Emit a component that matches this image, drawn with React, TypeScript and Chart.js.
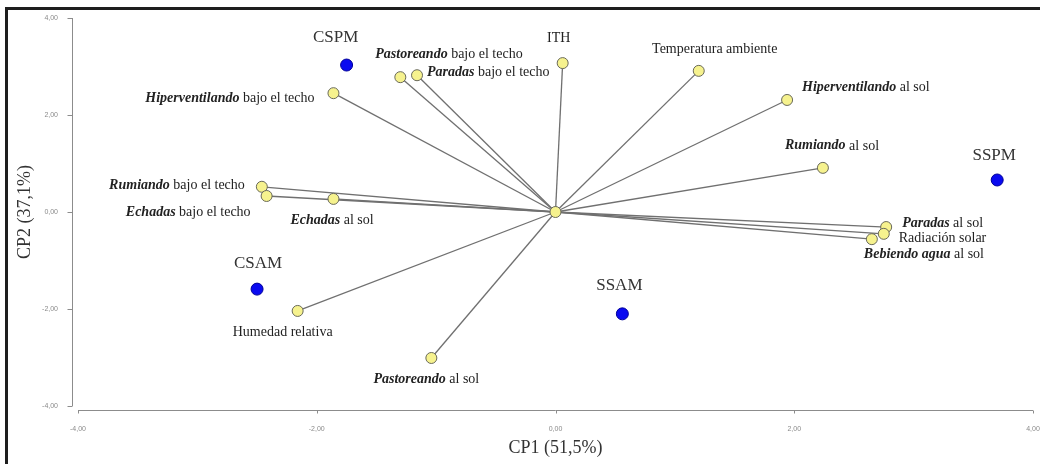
import { useEffect, useRef } from 'react';
import { Chart, registerables } from 'chart.js';

Chart.register(...registerables);

// ---- Data ----
const varBold = [
  'Hiperventilando', 'Pastoreando', 'Paradas', '', '', 'Hiperventilando', 'Rumiando',
  'Paradas', '', 'Bebiendo agua', 'Rumiando', 'Echadas', 'Echadas', '', 'Pastoreando',
];
const varRest = [
  ' bajo el techo', ' bajo el techo', ' bajo el techo', 'ITH', 'Temperatura ambiente', ' al sol', ' al sol',
  ' al sol', 'Radiación solar', ' al sol', ' bajo el techo', ' bajo el techo', ' al sol', 'Humedad relativa', ' al sol',
];
const varX = [-1.86, -1.30, -1.16, 0.06, 1.20, 1.94, 2.24, 2.77, 2.75, 2.65, -2.46, -2.42, -1.86, -2.16, -1.04];
const varY = [2.45, 2.78, 2.82, 3.07, 2.91, 2.31, 0.91, -0.31, -0.45, -0.56, 0.52, 0.33, 0.27, -2.04, -3.01];

const groupNames = ['CSPM', 'SSPM', 'CSAM', 'SSAM'];
const groupX = [-1.75, 3.70, -2.50, 0.56];
const groupY = [3.03, 0.66, -1.59, -2.10];

const axisMin = -4;
const axisMax = 4;
const axisStep = 2;
const xTitle = 'CP1 (51,5%)';
const yTitle = 'CP2 (37,1%)';

// ---- Label layout (pixel offsets from each point) ----
const varLabelPos: [number, number, CanvasTextAlign][] = [
  [-19, 5, 'right'], [-25, -23, 'left'], [10, -3, 'left'], [-4, -25, 'center'], [16, -22, 'center'],
  [15, -13, 'left'], [-38, -22, 'left'], [16, -4, 'left'], [15, 5, 'left'], [-8, 15, 'left'],
  [-17, -1, 'right'], [-16, 16, 'right'], [-43, 21, 'left'], [-15, 21, 'center'], [-5, 21, 'center'],
];
const groupLabelPos: [number, number][] = [[-11, -28], [-3, -24], [1, -26], [-3, -28]];

const SERIF = '"Liberation Serif", "Times New Roman", serif';

export default function App() {
  const canvasRef = useRef<HTMLCanvasElement | null>(null);

  useEffect(() => {
    const canvas = canvasRef.current;
    if (!canvas) return;

    const lineDatasets = varX.map((x, i) => ({
      type: 'line' as const,
      data: [{ x: 0, y: 0 }, { x, y: varY[i] }],
      borderColor: '#707070',
      borderWidth: 1.3,
      pointRadius: 0,
      pointHoverRadius: 0,
      fill: false,
      order: 3,
    }));

    const decorPlugin = {
      id: 'decor',
      beforeDraw(chart: any) {
        const ctx = chart.ctx;
        ctx.save();
        ctx.fillStyle = '#ffffff';
        ctx.fillRect(0, 0, chart.width, chart.height);
        ctx.fillStyle = '#1e1e1e';
        ctx.fillRect(5, 7, 3, chart.height - 7);
        ctx.fillRect(5, 7, chart.width - 5, 3);
        ctx.restore();
      },
      beforeDatasetsDraw(chart: any) {
        const ctx = chart.ctx;
        const xs = chart.scales.x;
        const ys = chart.scales.y;
        const area = chart.chartArea;
        ctx.save();
        ctx.strokeStyle = '#8c8c8c';
        ctx.lineWidth = 1;
        // y axis, offset left
        const ax = Math.round(area.left - 6) + 0.5;
        ctx.beginPath();
        ctx.moveTo(ax, ys.getPixelForValue(axisMax));
        ctx.lineTo(ax, ys.getPixelForValue(axisMin));
        ys.ticks.forEach((t: any) => {
          const p = Math.round(ys.getPixelForValue(t.value)) + 0.5;
          ctx.moveTo(ax - 5, p);
          ctx.lineTo(ax, p);
        });
        // x axis, offset down
        const ay = Math.round(area.bottom + 4) + 0.5;
        ctx.moveTo(xs.getPixelForValue(axisMin), ay);
        ctx.lineTo(xs.getPixelForValue(axisMax), ay);
        xs.ticks.forEach((t: any) => {
          const p = Math.round(xs.getPixelForValue(t.value)) + 0.5;
          ctx.moveTo(p, ay);
          ctx.lineTo(p, ay + 3);
        });
        ctx.stroke();
        ctx.restore();
      },
      afterDatasetsDraw(chart: any) {
        const ctx = chart.ctx;
        const xs = chart.scales.x;
        const ys = chart.scales.y;
        ctx.save();
        ctx.fillStyle = '#222222';
        ctx.textBaseline = 'middle';
        const boldFont = `italic bold 14px ${SERIF}`;
        const regFont = `14px ${SERIF}`;
        varX.forEach((x, i) => {
          const px = xs.getPixelForValue(x);
          const py = ys.getPixelForValue(varY[i]);
          const [dx, dy, align] = varLabelPos[i];
          ctx.font = boldFont;
          const wb = varBold[i] ? ctx.measureText(varBold[i]).width : 0;
          ctx.font = regFont;
          const wr = ctx.measureText(varRest[i]).width;
          const total = wb + wr;
          let sx = px + dx;
          if (align === 'center') sx -= total / 2;
          else if (align === 'right') sx -= total;
          ctx.textAlign = 'left';
          if (varBold[i]) {
            ctx.font = boldFont;
            ctx.fillText(varBold[i], sx, py + dy);
          }
          ctx.font = regFont;
          ctx.fillText(varRest[i], sx + wb, py + dy);
        });
        ctx.font = `17px ${SERIF}`;
        ctx.textAlign = 'center';
        ctx.fillStyle = '#333333';
        groupX.forEach((x, i) => {
          const px = xs.getPixelForValue(x);
          const py = ys.getPixelForValue(groupY[i]);
          const [dx, dy] = groupLabelPos[i];
          ctx.fillText(groupNames[i], px + dx, py + dy);
        });
        ctx.restore();
      },
    };

    const tickFmt = (v: any) => Number(v).toFixed(2).replace('.', ',');

    const chart = new Chart(canvas, {
      type: 'scatter',
      data: {
        datasets: [
          ...lineDatasets,
          {
            type: 'scatter' as const,
            data: [{ x: 0, y: 0 }, ...varX.map((x, i) => ({ x, y: varY[i] }))],
            backgroundColor: '#f6f28e',
            borderColor: '#6a6a5a',
            borderWidth: 1,
            pointRadius: 5.5,
            order: 2,
          },
          {
            type: 'scatter' as const,
            data: groupX.map((x, i) => ({ x, y: groupY[i] })),
            backgroundColor: '#0a0af0',
            borderColor: '#00009a',
            borderWidth: 1,
            pointRadius: 6,
            order: 1,
          },
        ] as any,
      },
      options: {
        responsive: false,
        animation: false,
        devicePixelRatio: 1,
        layout: { padding: { left: 0, top: 18, right: 5, bottom: 0 } },
        plugins: {
          legend: { display: false },
          tooltip: { enabled: false },
        },
        scales: {
          x: {
            type: 'linear',
            min: axisMin,
            max: axisMax,
            grid: { display: false },
            border: { display: false },
            ticks: {
              stepSize: axisStep,
              padding: 11,
              maxRotation: 0,
              autoSkip: false,
              color: '#8a8a8a',
              font: { family: '"Liberation Sans", Arial, sans-serif', size: 7 },
              callback: tickFmt,
            },
            title: {
              display: true,
              text: xTitle,
              color: '#333333',
              font: { family: SERIF, size: 18 },
              padding: { top: 0, bottom: 5 },
            },
            afterFit(s: any) {
              s.height = 58;
              s.paddingLeft = 0;
              s.paddingRight = 0;
            },
          },
          y: {
            type: 'linear',
            min: axisMin,
            max: axisMax,
            grid: { display: false },
            border: { display: false },
            ticks: {
              stepSize: axisStep,
              padding: 12,
              autoSkip: false,
              color: '#8a8a8a',
              font: { family: '"Liberation Sans", Arial, sans-serif', size: 7 },
              callback: tickFmt,
            },
            title: {
              display: true,
              text: yTitle,
              color: '#333333',
              font: { family: SERIF, size: 18 },
              padding: { top: 14, bottom: 0 },
            },
            afterFit(s: any) {
              s.width = 78;
              s.paddingTop = 0;
              s.paddingBottom = 0;
            },
          },
        },
      },
      plugins: [decorPlugin],
    });

    return () => chart.destroy();
  }, []);

  return (
    <div style={{ position: 'absolute', left: 0, top: 0, width: 1040, height: 464, background: '#fff' }}>
      <canvas ref={canvasRef} width={1040} height={464} style={{ display: 'block', width: 1040, height: 464 }} />
    </div>
  );
}
